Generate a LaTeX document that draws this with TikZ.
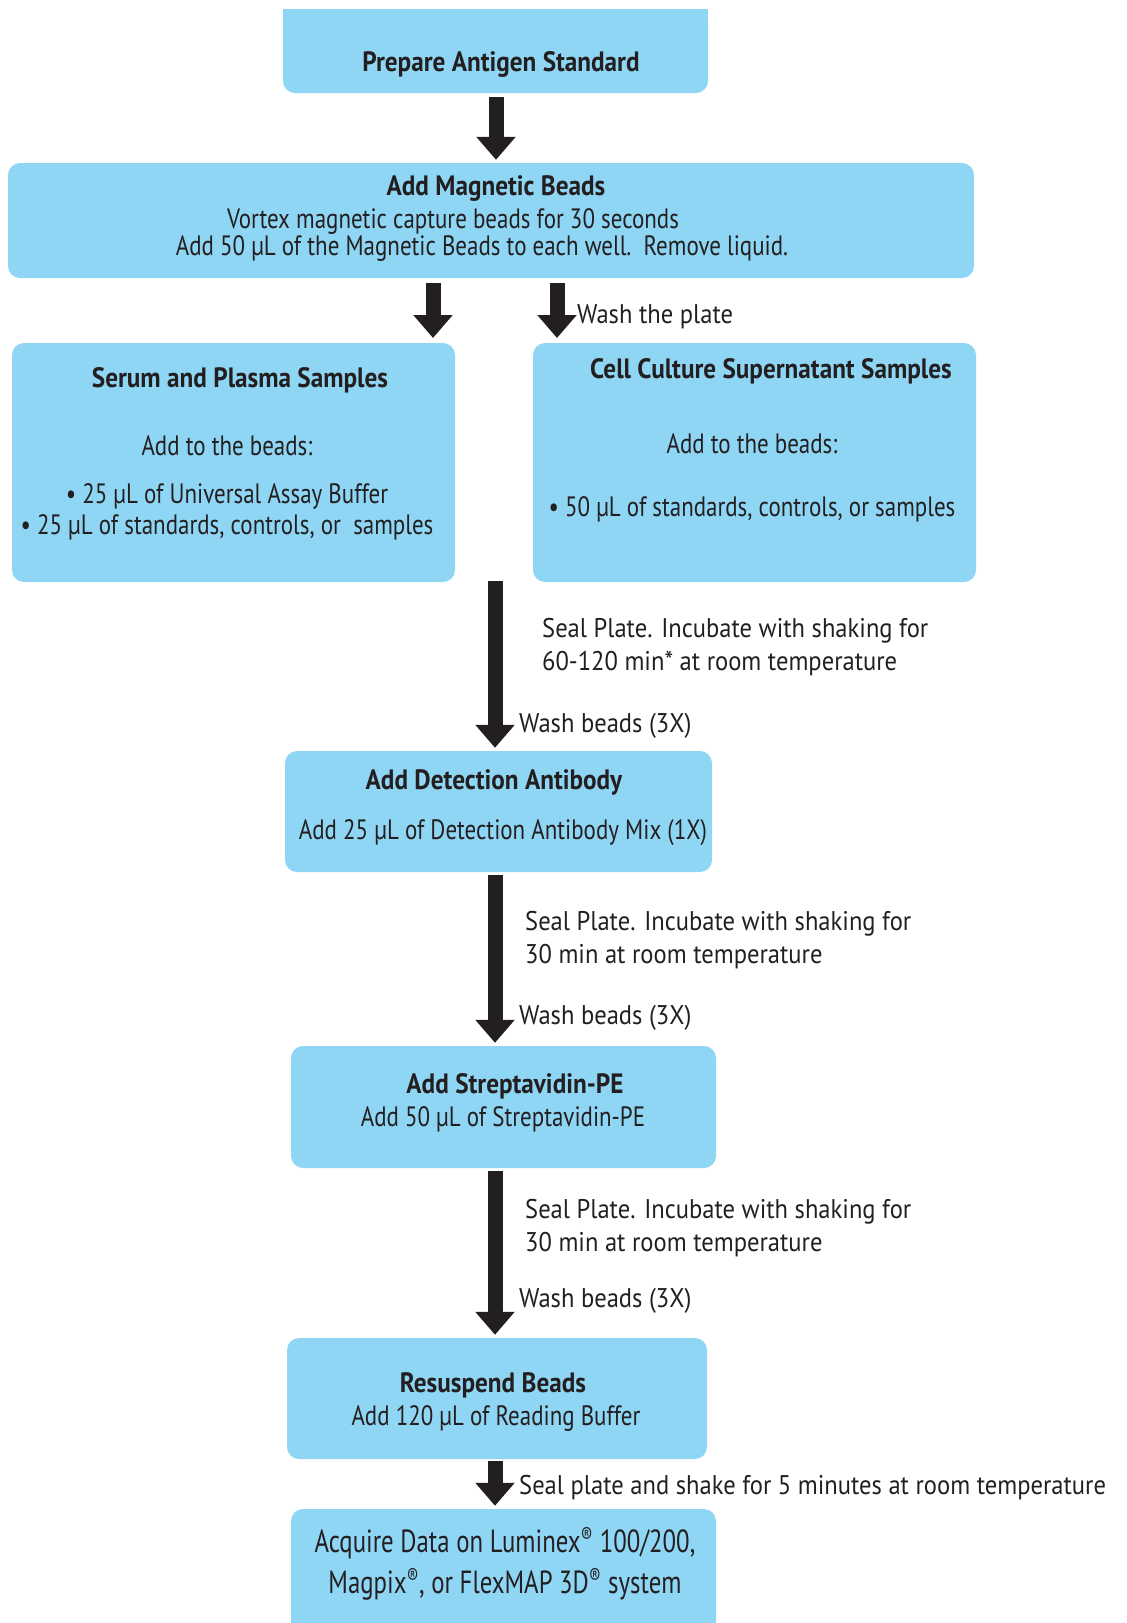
\documentclass[tikz,border=0pt]{standalone}
\usepackage{fontspec}
\setmainfont{PT Sans}
\newfontfamily\cond[FakeStretch=0.82]{PT Sans}
\newfontfamily\tcond[FakeStretch=0.9]{PT Sans}
\newfontfamily\bcond[FakeStretch=0.775]{PT Sans}
\newfontfamily\lfont[FakeStretch=0.91]{PT Sans}
\usetikzlibrary{arrows.meta}
\definecolor{boxblue}{RGB}{143,214,245}
\definecolor{ink}{RGB}{35,31,32}
\tikzset{
 box/.style={fill=boxblue, rounded corners=12pt, inner sep=0pt, draw=none},
 flow/.style={draw=ink, line width=15pt, shorten >=3pt, -{Triangle[width=38pt,length=23pt]}},
 lbl/.style={font=\lfont\fontsize{27}{33}\selectfont, text=ink, inner sep=0pt, align=left, yshift=-3pt},
 ttl/.style={font=\tcond\bfseries\fontsize{28}{33}\selectfont, text=ink, inner sep=0pt, yshift=-3pt},
 body/.style={font=\cond\fontsize{28}{32}\selectfont, text=ink, inner sep=0pt, align=center, yshift=-3pt},
 big/.style={font=\bcond\fontsize{32}{41}\selectfont, text=ink, inner sep=0pt, align=center, yshift=-3pt},
}
\begin{document}
\begin{tikzpicture}[x=1pt,y=-1pt]
\useasboundingbox (0,0) rectangle (1127,1623);
% boxes
\node[box, minimum width=425pt, minimum height=84pt] (b1) at (495.5,51) {};
\fill[boxblue] (b1.north west) rectangle ([yshift=-20pt]b1.north east);
\node[box, minimum width=966pt, minimum height=115pt] (b2) at (491,220.5) {};
\node[box, minimum width=443pt, minimum height=239pt] (b3) at (233.5,462.5) {};
\node[box, minimum width=443pt, minimum height=239pt] (b4) at (754.5,462.5) {};
\node[box, minimum width=427pt, minimum height=121pt] (b5) at (498.5,811.5) {};
\node[box, minimum width=425pt, minimum height=122pt] (b6) at (503.5,1107) {};
\node[box, minimum width=420pt, minimum height=121pt] (b7) at (497,1398.5) {};
\node[box, minimum width=425pt, minimum height=131pt] (b8) at (503.5,1574.5) {};
% arrow coordinates
\coordinate (a1s) at (496,97);
\coordinate (a2s) at (433,283);
\coordinate (a2e) at (433,341);
\coordinate (a3s) at (557,283);
\coordinate (a3e) at (557,341);
\coordinate (a4s) at (495,581);
\coordinate (a5s) at (495,875);
\coordinate (a6s) at (495,1171);
\coordinate (a7s) at (495,1461);
\draw[flow] (a1s) -- (a1s |- b2.north);
\draw[flow] (a2s) -- (a2e);
\draw[flow] (a3s) -- (a3e);
\draw[flow] (a4s) -- (a4s |- b5.north);
\draw[flow] (a5s) -- (a5s |- b6.north);
\draw[flow] (a6s) -- (a6s |- b7.north);
\draw[flow] (a7s) -- (a7s |- b8.north);
% box texts
\node[ttl] (t1) at (501,61) {Prepare Antigen Standard};
\node[ttl] (t2) at (496,186) {Add Magnetic Beads};
\node[body] (t2a) at (453,218) {Vortex magnetic capture beads for 30 seconds};
\node[body] (t2b) at (482,245) {Add 50 µL of the Magnetic Beads to each well.\ \ Remove liquid.};
\node[ttl] (t3) at (240,377) {Serum and Plasma Samples};
\node[body] (t3a) at (227,443) {Add to the beads:};
\node[body] (t3b) at (227,493) {• 25 µL of Universal Assay Buffer};
\node[body] (t3c) at (227,524) {• 25 µL of standards, controls, or\ \ samples};
\node[ttl] (t4) at (771,368) {Cell Culture Supernatant Samples};
\node[body] (t4a) at (752,441) {Add to the beads:};
\node[body] (t4b) at (752,506) {• 50 µL of standards, controls, or samples};
\node[ttl] (t5) at (494,779) {Add Detection Antibody};
\node[body] (t5a) at (503,830) {Add 25 µL of Detection Antibody Mix (1X)};
\node[ttl] (t6) at (515,1083) {Add Streptavidin-PE};
\node[body] (t6a) at (503,1116) {Add 50 µL of Streptavidin-PE};
\node[ttl] (t7) at (493,1382) {Resuspend Beads};
\node[body] (t7a) at (496,1415) {Add 120 µL of Reading Buffer};
\node[big] (t8) at (505,1561) {Acquire Data on Luminex\textsuperscript{®} 100/200,\\Magpix\textsuperscript{®}, or FlexMAP 3D\textsuperscript{®} system};
% connector labels
\node[lbl, anchor=west] (l1) at (577,314) {Wash the plate};
\node[lbl, anchor=west] (l2) at (542,644) {Seal Plate. Incubate with shaking for\\60-120 min* at room temperature};
\node[lbl, anchor=west] (l3) at (519,723) {Wash beads (3X)};
\node[lbl, anchor=west] (l4) at (525,937.5) {Seal Plate. Incubate with shaking for\\30 min at room temperature};
\node[lbl, anchor=west] (l5) at (519,1015) {Wash beads (3X)};
\node[lbl, anchor=west] (l6) at (525,1225.5) {Seal Plate. Incubate with shaking for\\30 min at room temperature};
\node[lbl, anchor=west] (l7) at (519,1298) {Wash beads (3X)};
\node[lbl, anchor=west] (l8) at (519,1485) {Seal plate and shake for 5 minutes at room temperature};
\end{tikzpicture}
\end{document}
